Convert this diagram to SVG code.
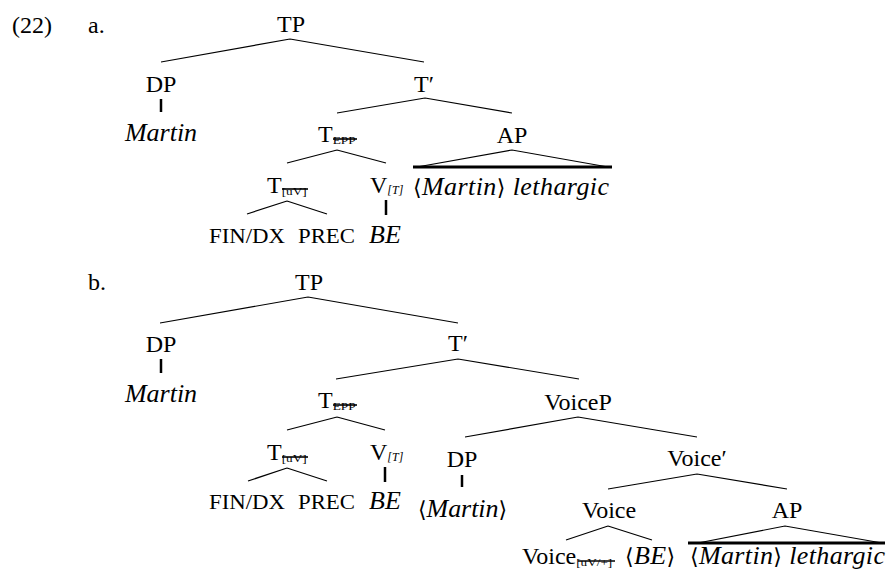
<svg xmlns="http://www.w3.org/2000/svg" width="886" height="576" viewBox="0 0 886 576">
<style>
text{font-family:"Liberation Serif","DejaVu Serif",serif;fill:#000}
.n{font-size:24px;text-anchor:middle}
.s{font-size:24px}
.i{font-size:26px;font-style:italic}
.ic{font-size:26px;font-style:italic;text-anchor:middle}
.sc{font-size:20px}
.sub{font-size:10px}
.subi{font-size:12px;font-style:italic}
.br{font-style:normal;font-family:"DejaVu Serif","Liberation Serif",serif;font-size:22px}
.e{stroke:#000;stroke-width:1.2;fill:none}
.bar{stroke:#000;stroke-width:2.5}
.strike{stroke:#000;stroke-width:1.6}
.base{stroke:#000;stroke-width:3}
</style>
<text class="s" x="12" y="33">(22)</text>
<text class="s" x="88" y="33">a.</text>
<text class="s" x="88" y="290">b.</text>

<g id="connectors">
<!-- a -->
<path class="e" d="M290,39L161,62M290,39L424,62"/>
<line class="bar" x1="161" y1="99" x2="161" y2="112"/>
<path class="e" d="M425,98L337,113M425,98L512,113"/>
<path class="e" d="M337,150L287,163M337,150L386,163"/>
<path class="e" d="M287,201L247,214M287,201L327,214"/>
<line class="bar" x1="386" y1="200" x2="386" y2="215"/>
<path class="e" d="M417,167L512,150L608,167"/>
<line class="base" x1="413" y1="167" x2="612" y2="167"/>
<!-- b -->
<path class="e" d="M308,297L160,323M308,297L458,323"/>
<line class="bar" x1="161" y1="359" x2="161" y2="373"/>
<path class="e" d="M458,359L336,379M458,359L579,379"/>
<path class="e" d="M337,417L287,430M337,417L385,430"/>
<path class="e" d="M287,468L248,481M287,468L327,481"/>
<line class="bar" x1="385" y1="467" x2="385" y2="482"/>
<path class="e" d="M578,417L465,437M578,417L697,437"/>
<line class="bar" x1="462" y1="475" x2="462" y2="487"/>
<path class="e" d="M697,474L608,489M697,474L787,489"/>
<path class="e" d="M608,526L566,540M608,526L652,540"/>
<path class="e" d="M698,543L785,526L882,543"/>
<line class="base" x1="688" y1="543" x2="885" y2="543"/>
</g>

<!-- tree a -->
<g id="a-TP"><text class="n" x="291" y="32">TP</text></g>
<g id="a-DP"><text class="n" x="161" y="92">DP</text></g>
<g id="a-Martin"><text class="ic" x="161" y="141">Martin</text></g>
<g id="a-Tbar"><text class="n" x="424" y="92">T′</text></g>
<g id="a-TEPP"><text class="s" x="318" y="142">T<tspan class="sub" dy="2" textLength="23" lengthAdjust="spacingAndGlyphs">EPP</tspan></text><line class="strike" x1="333" y1="139" x2="357" y2="139"/></g>
<g id="a-AP"><text class="n" x="512" y="143">AP</text></g>
<g id="a-APtext"><text class="i" x="413" y="195" textLength="196" lengthAdjust="spacing"><tspan class="br">⟨</tspan>Martin<tspan class="br">⟩</tspan> lethargic</text></g>
<g id="a-TuV"><text class="s" x="267" y="193">T<tspan class="sub" dy="2" font-size="11" textLength="25" lengthAdjust="spacingAndGlyphs">[uV]</tspan></text><line class="strike" x1="282" y1="189" x2="308" y2="189"/></g>
<g id="a-VT"><text class="s" x="370" y="193">V<tspan class="subi" dy="1">[T]</tspan></text></g>
<g id="a-FIN"><text class="sc" x="209" y="243" textLength="76" lengthAdjust="spacingAndGlyphs">FIN/DX</text></g>
<g id="a-PREC"><text class="sc" x="298" y="243" textLength="57" lengthAdjust="spacingAndGlyphs">PREC</text></g>
<g id="a-BE"><text class="ic" x="385" y="243">BE</text></g>

<!-- tree b -->
<g id="b-TP"><text class="n" x="309" y="290">TP</text></g>
<g id="b-DP"><text class="n" x="161" y="352">DP</text></g>
<g id="b-Martin"><text class="ic" x="161" y="402">Martin</text></g>
<g id="b-Tbar"><text class="n" x="458" y="351">T′</text></g>
<g id="b-TEPP"><text class="s" x="318" y="408">T<tspan class="sub" dy="2" textLength="23" lengthAdjust="spacingAndGlyphs">EPP</tspan></text><line class="strike" x1="333" y1="405" x2="357" y2="405"/></g>
<g id="b-VoiceP"><text class="n" x="578" y="410">VoiceP</text></g>
<g id="b-TuV"><text class="s" x="267" y="460">T<tspan class="sub" dy="2" font-size="11" textLength="25" lengthAdjust="spacingAndGlyphs">[uV]</tspan></text><line class="strike" x1="282" y1="457" x2="308" y2="457"/></g>
<g id="b-VT"><text class="s" x="370" y="460">V<tspan class="subi" dy="1">[T]</tspan></text></g>
<g id="b-FIN"><text class="sc" x="209" y="509" textLength="76" lengthAdjust="spacingAndGlyphs">FIN/DX</text></g>
<g id="b-PREC"><text class="sc" x="298" y="509" textLength="57" lengthAdjust="spacingAndGlyphs">PREC</text></g>
<g id="b-BE"><text class="ic" x="385" y="509">BE</text></g>
<g id="b-DP2"><text class="n" x="462" y="467">DP</text></g>
<g id="b-Martin2"><text class="i" x="418" y="517" textLength="89" lengthAdjust="spacing"><tspan class="br">⟨</tspan>Martin<tspan class="br">⟩</tspan></text></g>
<g id="b-Voicebar"><text class="n" x="697" y="466">Voice′</text></g>
<g id="b-Voice"><text class="n" x="609" y="518">Voice</text></g>
<g id="b-AP"><text class="n" x="787" y="518">AP</text></g>
<g id="b-Voicehead"><text class="s" x="522" y="564">Voice<tspan class="sub" dy="2" font-size="11" textLength="36" lengthAdjust="spacingAndGlyphs">[uV/+]</tspan></text><line class="strike" x1="578" y1="561" x2="615" y2="561"/></g>
<g id="b-BE2"><text class="i" x="625" y="564" textLength="50" lengthAdjust="spacing"><tspan class="br">⟨</tspan>BE<tspan class="br">⟩</tspan></text></g>
<g id="b-APtext"><text class="i" x="690" y="564" textLength="195" lengthAdjust="spacing"><tspan class="br">⟨</tspan>Martin<tspan class="br">⟩</tspan> lethargic</text></g>
</svg>
